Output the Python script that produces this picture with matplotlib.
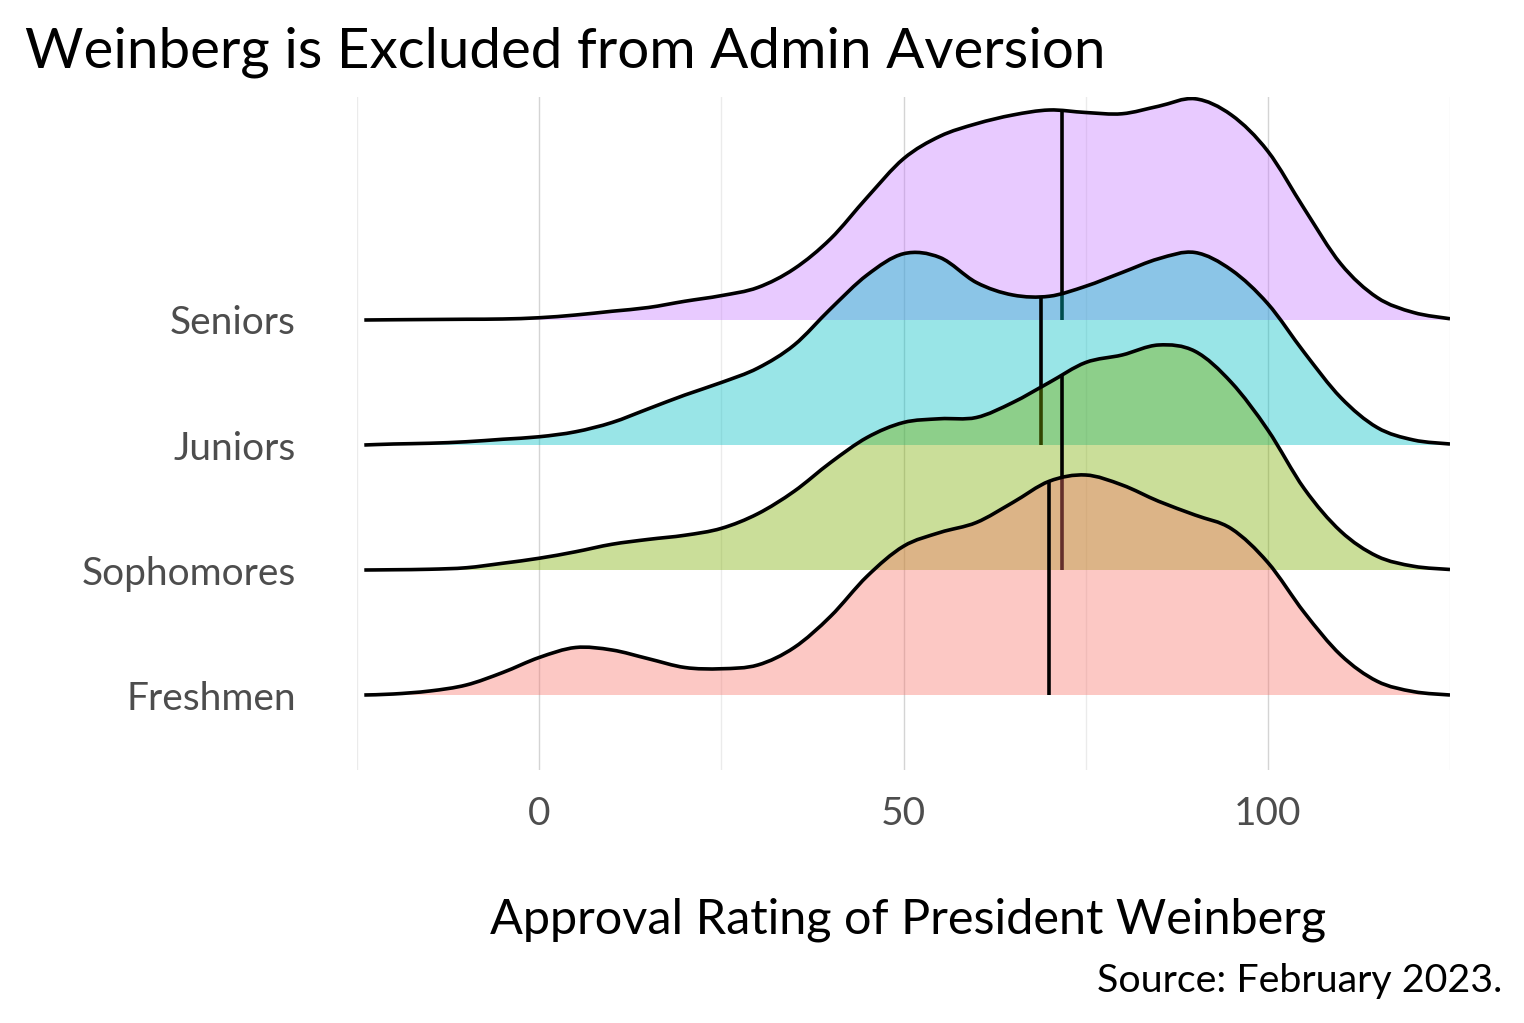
import numpy as np
import matplotlib
matplotlib.use("Agg")
from matplotlib import pyplot as plt
from matplotlib.path import Path
from matplotlib.patches import PathPatch

# approval rating grid (x) and scaled ridge heights
ratings = [-24, -20, -15, -10, -5, 0, 5, 10, 15, 20, 25, 30, 35, 40, 45, 50,
           55, 60, 65, 70, 75, 80, 85, 90, 95, 100, 105, 110, 115, 120, 125]

classes = ["Freshmen", "Sophomores", "Juniors", "Seniors"]

freshmen = [0, 0.008, 0.032, 0.08, 0.18, 0.30, 0.38, 0.36, 0.29, 0.22, 0.21,
            0.24, 0.38, 0.63, 0.95, 1.19, 1.30, 1.38, 1.54, 1.71, 1.76, 1.68,
            1.55, 1.44, 1.33, 1.06, 0.66, 0.32, 0.11, 0.027, 0]
sophomores = [0, 0.002, 0.006, 0.018, 0.054, 0.094, 0.146, 0.206, 0.245, 0.278,
              0.333, 0.45, 0.63, 0.86, 1.06, 1.18, 1.21, 1.22, 1.34, 1.50, 1.66,
              1.72, 1.80, 1.75, 1.50, 1.12, 0.65, 0.31, 0.11, 0.03, 0.004]
juniors = [0, 0.008, 0.014, 0.026, 0.046, 0.066, 0.106, 0.18, 0.29, 0.40, 0.50,
           0.615, 0.80, 1.09, 1.36, 1.53, 1.50, 1.30, 1.20, 1.19, 1.27, 1.38,
           1.49, 1.54, 1.40, 1.13, 0.74, 0.38, 0.14, 0.04, 0.008]
seniors = [0, 0.002, 0.004, 0.006, 0.008, 0.018, 0.04, 0.07, 0.10, 0.15, 0.195,
           0.26, 0.41, 0.65, 0.98, 1.29, 1.47, 1.57, 1.64, 1.68, 1.66, 1.65,
           1.71, 1.77, 1.64, 1.35, 0.89, 0.45, 0.18, 0.06, 0.01]

medians = [69.9, 71.8, 68.9, 71.8]

colors = ["#F8766D", "#7CAE00", "#00BFC4", "#C77CFF"]

title = "Weinberg is Excluded from Admin Aversion"
xlabel = "Approval Rating of President Weinberg"
caption = "Source: February 2023."

FONT = "Lato"
W, H = 1524, 1023
LW = 2.6


def smooth_path(xs, ys):
    # cubic bezier segments through the points (catmull-rom tangents)
    pts = np.column_stack([xs, ys])
    verts = [pts[0]]
    codes = [Path.MOVETO]
    n = len(pts)
    for k in range(n - 1):
        p0 = pts[max(k - 1, 0)]
        p1 = pts[k]
        p2 = pts[k + 1]
        p3 = pts[min(k + 2, n - 1)]
        verts += [p1 + (p2 - p0) / 6.0, p2 - (p3 - p1) / 6.0, p2]
        codes += [Path.CURVE4] * 3
    return verts, codes


fig = plt.figure(figsize=(W / 100, H / 100), dpi=100)
ax = fig.add_axes([357 / W, (H - 770) / H, (1450 - 357) / W, (770 - 97) / H])

heights = [freshmen, sophomores, juniors, seniors]
x = np.array(ratings, dtype=float)

# draw top ridge first so lower ones sit on top
for i in reversed(range(len(classes))):
    h = np.array(heights[i])
    z = 10 + (len(classes) - i) * 3
    verts, codes = smooth_path(x, i + h)
    fill_verts = verts + [(x[-1], i), (x[0], i), verts[0]]
    fill_codes = codes + [Path.LINETO, Path.LINETO, Path.CLOSEPOLY]
    ax.add_patch(PathPatch(Path(fill_verts, fill_codes), facecolor=colors[i],
                           alpha=0.4, lw=0, zorder=z))
    ax.add_patch(PathPatch(Path(verts, codes), facecolor="none",
                           edgecolor="black", lw=LW, zorder=z + 1))
    top = np.interp(medians[i], x, h)
    ax.plot([medians[i], medians[i]], [i, i + top], color="black", lw=LW,
            zorder=z + 1, solid_capstyle="butt")

ax.set_xlim(-25, 125)
ax.set_ylim(-0.6, 4.784)

for v in [0, 50, 100]:
    ax.axvline(v, color="#D4D4D4", lw=1.0, zorder=0)
for v in [-25, 25, 75, 125]:
    ax.axvline(v, color="#EBEBEB", lw=1.0, zorder=0)

ax.set_xticks([0, 50, 100])
ax.set_xticklabels(["0", "50", "100"], fontsize=28, color="#4D4D4D", family=FONT)
ax.set_yticks(range(len(classes)))
ax.set_yticklabels(classes, fontsize=28, color="#4D4D4D", family=FONT)
ax.tick_params(axis="x", length=0, pad=19)
ax.tick_params(axis="y", length=0, pad=44)
for s in ax.spines.values():
    s.set_visible(False)

fig.text(25 / W, 1 - 68 / H, title, fontsize=40.7, family=FONT, va="baseline")
fig.text(908 / W, 1 - 933 / H, xlabel, fontsize=35, family=FONT,
         ha="center", va="baseline")
fig.text(1502 / W, 1 - 992 / H, caption, fontsize=28.4, family=FONT,
         ha="right", va="baseline")

fig.savefig("out.png", dpi=100)
